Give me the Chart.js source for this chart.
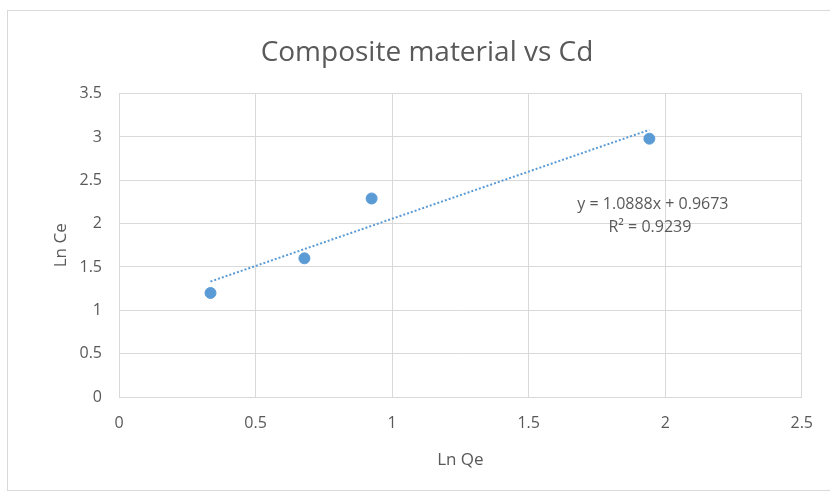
<!DOCTYPE html>
<html>
<head>
<meta charset="utf-8">
<script src="https://cdn.jsdelivr.net/npm/chart.js@4"></script>
<style>
  body { margin: 0; background: #fff; }
  #wrap { position: relative; width: 830px; height: 494px; overflow: hidden; }
  #frame { position: absolute; left: 7px; top: 10px; width: 840px; height: 481px; border: 1px solid #d9d9d9; box-sizing: border-box; }
  canvas { position: absolute; left: 0; top: 0; }
</style>
</head>
<body>
<div id="wrap">
  <div id="frame"></div>
  <canvas id="chart" width="830" height="494"></canvas>
</div>
<script>
// measured points
const lnQe = [0.335, 0.679, 0.925, 1.942];
const lnCe = [1.2, 1.6, 2.29, 2.98];

// linear fit shown on the chart
const slope = 1.0888;
const intercept = 0.9673;
const rSquared = 0.9239;

const xTicks = [0, 0.5, 1, 1.5, 2, 2.5];
const yTicks = [0, 0.5, 1, 1.5, 2, 2.5, 3, 3.5];

const points = lnQe.map((x, i) => ({ x: x, y: lnCe[i] }));
const xMin = Math.min(...lnQe);
const xMax = Math.max(...lnQe);
const trend = [
    { x: xMin, y: slope * xMin + intercept },
    { x: xMax, y: slope * xMax + intercept },
];

const textColor = "#595959";
const gridColor = "#d9d9d9";
const font = "'Open Sans', sans-serif";

// equation + R² label next to the trendline
const equationLabel = {
    id: "equationLabel",
    afterDatasetsDraw(chart) {
        const ctx = chart.ctx;
        const x = chart.scales.x.getPixelForValue(1.955);
        const y = chart.scales.y.getPixelForValue(2.22);
        ctx.save();
        ctx.font = "16px " + font;
        ctx.fillStyle = textColor;
        ctx.textAlign = "center";
        ctx.textBaseline = "middle";
        ctx.fillText("y = " + slope + "x + " + intercept, x, y);
        ctx.fillText("R\u00b2 = " + rSquared, x - 3, y + 23);
        ctx.restore();
    },
};

new Chart(document.getElementById("chart").getContext("2d"), {
    type: "scatter",
    data: {
        datasets: [
            {
                label: "Ln Ce",
                data: points,
                backgroundColor: "#5b9bd5",
                borderColor: "#5b9bd5",
                pointRadius: 5.5,
                order: 1,
            },
            {
                label: "Linear",
                type: "line",
                data: trend,
                borderColor: "#5b9bd5",
                borderWidth: 2,
                borderDash: [2, 2],
                pointRadius: 0,
                fill: false,
                order: 2,
            },
        ],
    },
    options: {
        responsive: false,
        animation: false,
        layout: { padding: { left: 51, right: 27, top: 36, bottom: 0 } },
        plugins: {
            legend: { display: false },
            tooltip: { enabled: false },
            title: {
                display: true,
                text: "Composite material vs Cd",
                color: textColor,
                font: { family: font, size: 28, weight: "normal" },
                padding: { top: 0, bottom: 24 },
            },
        },
        scales: {
            x: {
                type: "linear",
                min: 0,
                max: 2.5,
                afterBuildTicks: (axis) => { axis.ticks = xTicks.map((v) => ({ value: v })); },
                afterFit: (axis) => { axis.height = 97; },
                grid: { color: gridColor, drawTicks: false },
                border: { color: gridColor },
                ticks: {
                    color: textColor,
                    padding: 17,
                    font: { family: font, size: 16 },
                    callback: (value) => String(value),
                },
                title: {
                    display: true,
                    text: "Ln Qe",
                    color: textColor,
                    font: { family: font, size: 17 },
                    padding: { top: 0, bottom: 24 },
                },
            },
            y: {
                type: "linear",
                min: 0,
                max: 3.5,
                afterBuildTicks: (axis) => { axis.ticks = yTicks.map((v) => ({ value: v })); },
                afterFit: (axis) => { axis.width = 68; },
                grid: { color: gridColor, drawTicks: false },
                border: { color: gridColor },
                ticks: {
                    color: textColor,
                    padding: 17,
                    font: { family: font, size: 16 },
                    callback: (value) => String(value),
                },
                title: {
                    display: true,
                    text: "Ln Ce",
                    color: textColor,
                    font: { family: font, size: 17 },
                    padding: { top: 0, bottom: 0 },
                },
            },
        },
    },
    plugins: [equationLabel],
});
</script>
</body>
</html>
